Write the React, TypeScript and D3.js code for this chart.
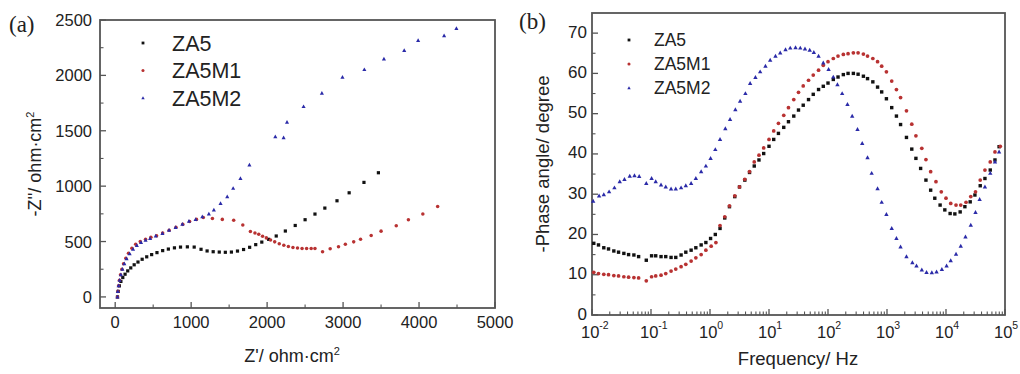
import React from "react";
import * as d3 from "d3";

// ---------- Data: Nyquist (Z' , -Z'') in ohm·cm² ----------
const za5Nyq: [number, number][] = [[30,0],[40,50],[55,100],[75,140],[100,175],[130,205],[165,235],[205,262],[250,290],[300,315],[355,340],[415,362],[480,382],[550,400],[625,418],[700,432],[780,443],[860,450],[950,452],[1040,450],[1130,430],[1210,415],[1290,408],[1370,405],[1450,403],[1530,405],[1610,414],[1690,428],[1770,448],[1850,472],[1930,495],[2020,520],[2120,550],[2240,595],[2370,645],[2500,697],[2630,748],[2760,802],[2920,868],[3080,940],[3275,1034],[3465,1121]];
const za5m1Nyq: [number, number][] = [[30,0],[36,50],[45,100],[56,150],[70,200],[88,250],[110,300],[140,350],[175,395],[220,440],[270,475],[330,500],[400,520],[470,538],[545,552],[625,576],[710,602],[800,628],[890,655],[980,680],[1070,700],[1160,718],[1280,709],[1410,700],[1560,693],[1680,650],[1780,590],[1840,578],[1890,565],[1940,548],[1990,533],[2045,513],[2100,497],[2160,480],[2220,467],[2280,455],[2340,447],[2400,442],[2460,438],[2520,437],[2580,437],[2630,437],[2730,407],[2830,434],[2940,452],[3030,476],[3140,497],[3230,521],[3370,555],[3500,594],[3700,642],[3860,696],[4050,748],[4245,817]];
const za5m2Nyq: [number, number][] = [[30,0],[35,50],[45,100],[58,150],[75,200],[95,250],[120,300],[150,345],[190,390],[235,430],[285,465],[340,492],[400,512],[460,528],[534,549],[622,573],[709,603],[796,627],[884,657],[971,684],[1059,700],[1147,723],[1233,748],[1299,784],[1387,844],[1475,904],[1553,980],[1649,1070],[1767,1190],[2108,1447],[2217,1438],[2262,1577],[2480,1718],[2721,1839],[2992,1983],[3280,2052],[3538,2147],[3805,2224],[3988,2314],[4330,2357],[4492,2423]];

// ---------- Data: Bode phase (log10 frequency/Hz, -phase in degree) ----------
const za5Bode: [number, number][] = [[-1.97,17.8],[-1.89,17.4],[-1.80,16.7],[-1.72,16.4],[-1.63,15.9],[-1.55,15.6],[-1.46,15.3],[-1.38,15.0],[-1.29,14.9],[-1.21,14.5],[-1.08,13.6],[-0.99,14.7],[-0.92,14.7],[-0.83,14.5],[-0.75,14.5],[-0.66,14.3],[-0.58,14.3],[-0.49,14.9],[-0.41,15.6],[-0.32,16.1],[-0.24,16.7],[-0.15,17.4],[-0.07,18.0],[0.01,19.0],[0.09,20.0],[0.17,21.5],[0.25,24.1],[0.33,26.9],[0.42,29.4],[0.50,31.8],[0.59,33.5],[0.67,35.4],[0.75,37.0],[0.83,38.5],[0.91,40.1],[1.0,41.9],[1.08,43.6],[1.16,45.1],[1.25,46.6],[1.33,48.0],[1.42,49.4],[1.50,50.9],[1.58,52.1],[1.67,53.5],[1.75,54.8],[1.84,56.0],[1.92,56.8],[2.0,57.6],[2.09,58.5],[2.17,59.1],[2.26,59.7],[2.34,60.0],[2.43,60.0],[2.51,59.8],[2.60,59.3],[2.67,58.7],[2.76,57.9],[2.84,56.6],[2.91,55.4],[2.99,53.7],[3.08,51.5],[3.16,49.4],[3.23,47.3],[3.33,44.1],[3.42,41.2],[3.49,38.9],[3.57,36.4],[3.66,33.5],[3.74,31.0],[3.81,29.0],[3.90,27.3],[3.98,26.1],[4.07,25.2],[4.15,25.1],[4.24,25.6],[4.32,26.9],[4.41,28.1],[4.49,29.8],[4.58,32.1],[4.66,33.9],[4.75,36.0],[4.83,38.5],[4.90,41.8]];
const za5m1Bode: [number, number][] = [[-1.97,10.6],[-1.89,10.3],[-1.80,10.1],[-1.72,10.0],[-1.63,9.8],[-1.55,9.7],[-1.46,9.5],[-1.38,9.4],[-1.29,9.3],[-1.21,9.2],[-1.08,8.5],[-0.99,9.5],[-0.92,9.7],[-0.83,9.9],[-0.75,10.3],[-0.66,10.9],[-0.58,11.4],[-0.49,12.0],[-0.41,12.6],[-0.32,13.4],[-0.24,14.2],[-0.15,15.0],[-0.07,16.1],[0.02,17.1],[0.10,18.0],[0.17,22.2],[0.25,24.4],[0.33,27.1],[0.42,29.6],[0.50,31.8],[0.59,33.7],[0.67,35.6],[0.75,38.0],[0.83,39.7],[0.91,41.5],[1.0,43.6],[1.08,45.7],[1.16,47.6],[1.25,49.6],[1.33,51.5],[1.42,53.5],[1.50,55.3],[1.58,56.9],[1.67,58.3],[1.75,59.6],[1.84,60.8],[1.92,62.0],[2.0,62.9],[2.09,63.7],[2.17,64.3],[2.26,64.7],[2.34,64.9],[2.43,65.1],[2.51,65.1],[2.60,64.8],[2.67,64.3],[2.76,63.7],[2.84,62.9],[2.91,61.8],[2.99,60.4],[3.08,58.1],[3.16,56.0],[3.23,54.0],[3.33,50.7],[3.42,47.4],[3.49,44.5],[3.59,41.4],[3.66,38.6],[3.74,35.6],[3.83,33.1],[3.92,30.6],[4.0,29.0],[4.08,27.7],[4.17,27.3],[4.25,27.3],[4.34,28.0],[4.42,29.4],[4.50,30.6],[4.58,33.5],[4.66,36.0],[4.75,38.0],[4.83,40.5],[4.92,41.9]];
const za5m2Bode: [number, number][] = [[-1.98,28.3],[-1.88,29.6],[-1.80,29.9],[-1.71,30.6],[-1.62,31.6],[-1.53,33.1],[-1.45,33.7],[-1.36,34.5],[-1.28,34.6],[-1.20,34.4],[-1.08,32.7],[-0.99,33.9],[-0.92,33.1],[-0.83,32.3],[-0.75,31.8],[-0.66,31.3],[-0.58,31.3],[-0.49,31.6],[-0.41,32.1],[-0.32,32.7],[-0.24,33.9],[-0.15,35.6],[-0.07,37.0],[0.01,38.9],[0.09,41.1],[0.17,43.6],[0.26,46.3],[0.34,48.6],[0.43,51.0],[0.51,53.1],[0.60,55.0],[0.68,57.5],[0.77,59.0],[0.85,60.4],[0.94,61.8],[1.02,63.3],[1.11,64.3],[1.19,65.1],[1.28,65.9],[1.36,66.3],[1.45,66.4],[1.53,66.3],[1.61,66.1],[1.69,65.8],[1.76,65.2],[1.84,64.3],[1.92,62.6],[2.01,61.0],[2.09,59.1],[2.16,57.2],[2.24,55.0],[2.33,52.3],[2.41,49.4],[2.50,46.1],[2.58,42.6],[2.67,39.1],[2.74,35.2],[2.84,31.4],[2.91,28.0],[2.99,25.0],[3.08,21.5],[3.16,19.0],[3.23,16.9],[3.33,14.5],[3.43,13.0],[3.50,12.2],[3.59,11.2],[3.67,10.6],[3.76,10.5],[3.84,10.7],[3.93,11.3],[4.01,12.2],[4.08,13.5],[4.17,15.1],[4.25,17.1],[4.33,19.4],[4.42,22.3],[4.50,25.5],[4.57,28.7],[4.66,31.8],[4.75,35.2],[4.83,38.0],[4.90,40.5]];

const seriesNames = ["ZA5", "ZA5M1", "ZA5M2"];
const nyqXTicks = [0, 1000, 2000, 3000, 4000, 5000];
const nyqYTicks = [0, 500, 1000, 1500, 2000, 2500];
const bodeYTicks = [0, 10, 20, 30, 40, 50, 60, 70];
const bodeXExponents = [-2, -1, 0, 1, 2, 3, 4, 5];

const COLORS = ["#111111", "#b83232", "#2a2aa8"];
const FONT = "'Liberation Sans', Arial, sans-serif";
const FRAME = "#555";

function Marker({ kind, x, y, s }: { kind: number; x: number; y: number; s: number }) {
  if (kind === 0) return <rect x={x - s} y={y - s} width={2 * s} height={2 * s} fill={COLORS[0]} />;
  if (kind === 1) return <circle cx={x} cy={y} r={s * 1.1} fill={COLORS[1]} />;
  const h = s * 2.2;
  return <path d={`M${x},${y - h * 0.6}L${x + h * 0.55},${y + h * 0.4}L${x - h * 0.55},${y + h * 0.4}Z`} fill={COLORS[2]} />;
}

export default function App() {
  // ---- panel (a) ----
  const aL = 100, aR = 495, aT = 20, aB = 308;
  const ax = d3.scaleLinear().domain([-200, 5000]).range([aL, aR]);
  const ay = d3.scaleLinear().domain([-100, 2500]).range([aB, aT]);
  const aMinorX = d3.range(500, 5000, 1000);
  const aMinorY = d3.range(250, 2500, 500);

  // ---- panel (b) ----
  const bL = 592, bR = 1005, bT = 13, bB = 315;
  const bx = d3.scaleLog().domain([1e-2, 1e5]).range([bL, bR]);
  const by = d3.scaleLinear().domain([0, 75]).range([bB, bT]);
  const bMinorY = d3.range(5, 75, 10);
  const bMinorX: number[] = [];
  bodeXExponents.slice(0, -1).forEach((e) => {
    for (let m = 2; m <= 9; m++) bMinorX.push(m * Math.pow(10, e));
  });

  const nyq = [za5Nyq, za5m1Nyq, za5m2Nyq];
  const bode = [za5Bode, za5m1Bode, za5m2Bode];

  return (
    <svg width={1020} height={374} style={{ position: "absolute", left: 0, top: 0, background: "#fff" }}
      fontFamily={FONT}>
      <rect x={0} y={0} width={1020} height={374} fill="#fff" />
      {/* ================= Panel (a) ================= */}
      <text x={9} y={32} fontFamily="'Liberation Serif', 'Times New Roman', serif" fontSize={23} fill="#222">(a)</text>
      {nyqXTicks.map((t) => (
        <g key={"ax" + t}>
          <line x1={ax(t)} x2={ax(t)} y1={aB} y2={aB - 6} stroke={FRAME} strokeWidth={1.3} />
          <text x={ax(t)} y={328} textAnchor="middle" fontSize={16.5} fill="#222">{t}</text>
        </g>
      ))}
      {aMinorX.map((t) => (
        <line key={"amx" + t} x1={ax(t)} x2={ax(t)} y1={aB} y2={aB - 3.5} stroke={FRAME} strokeWidth={1.1} />
      ))}
      {nyqYTicks.map((t) => (
        <g key={"ay" + t}>
          <line x1={aL} x2={aL + 6} y1={ay(t)} y2={ay(t)} stroke={FRAME} strokeWidth={1.3} />
          <text x={92} y={ay(t) + 6} textAnchor="end" fontSize={16.5} fill="#222">{t}</text>
        </g>
      ))}
      {aMinorY.map((t) => (
        <line key={"amy" + t} x1={aL} x2={aL + 3.5} y1={ay(t)} y2={ay(t)} stroke={FRAME} strokeWidth={1.1} />
      ))}
      <rect x={aL} y={aT} width={aR - aL} height={aB - aT} fill="none" stroke={FRAME} strokeWidth={1.8} />
      {[0, 1, 2].map((k) => (
        <g key={"nyq" + k}>
          {nyq[k].map(([zr, zi], i) => (
            <Marker key={i} kind={k} x={ax(zr)} y={ay(zi)} s={k === 2 ? 1.7 : 1.6} />
          ))}
        </g>
      ))}
      {seriesNames.map((n, k) => (
        <g key={"aleg" + k}>
          <Marker kind={k} x={143} y={43 + k * 27.5} s={1.4} />
          <text x={172} y={43 + k * 27.5 + 7.5} fontSize={21.5} fill="#222">{n}</text>
        </g>
      ))}
      <text x={292} y={362} textAnchor="middle" fontSize={18} fill="#222">
        Z'/ ohm·cm<tspan dy={-7} fontSize={11}>2</tspan>
      </text>
      <text transform={`translate(41,${(aT + aB) / 2}) rotate(-90)`} textAnchor="middle" fontSize={18} fill="#222">
        -Z''/ ohm·cm<tspan dy={-7} fontSize={11}>2</tspan>
      </text>

      {/* ================= Panel (b) ================= */}
      <text x={519} y={29} fontFamily="'Liberation Serif', 'Times New Roman', serif" fontSize={23} fill="#222">(b)</text>
      {bodeXExponents.map((e) => {
        const v = Math.pow(10, e);
        return (
          <g key={"bx" + e}>
            <line x1={bx(v)} x2={bx(v)} y1={bB} y2={bB - 6} stroke={FRAME} strokeWidth={1.3} />
            <text x={bx(v) - 11} y={338} textAnchor="start" fontSize={16.5} fill="#222">
              10<tspan dy={-9} fontSize={10.5}>{e}</tspan>
            </text>
          </g>
        );
      })}
      {bMinorX.map((v, i) => (
        <line key={"bmx" + i} x1={bx(v)} x2={bx(v)} y1={bB} y2={bB - 3.5} stroke={FRAME} strokeWidth={1.1} />
      ))}
      {bodeYTicks.map((t) => (
        <g key={"by" + t}>
          <line x1={bL} x2={bL + 6} y1={by(t)} y2={by(t)} stroke={FRAME} strokeWidth={1.3} />
          <text x={587} y={by(t) + 4.5} textAnchor="end" fontSize={17} fill="#222">{t}</text>
        </g>
      ))}
      {bMinorY.map((t) => (
        <line key={"bmy" + t} x1={bL} x2={bL + 3.5} y1={by(t)} y2={by(t)} stroke={FRAME} strokeWidth={1.1} />
      ))}
      <rect x={bL} y={bT} width={bR - bL} height={bB - bT} fill="none" stroke={FRAME} strokeWidth={1.8} />
      {[0, 1, 2].map((k) => (
        <g key={"bode" + k}>
          {bode[k].map(([lf, ph], i) => (
            <Marker key={i} kind={k} x={bx(Math.pow(10, lf))} y={by(ph)} s={k === 2 ? 1.8 : 1.7} />
          ))}
        </g>
      ))}
      {seriesNames.map((n, k) => (
        <g key={"bleg" + k}>
          <Marker kind={k} x={629} y={40 + k * 24} s={1.4} />
          <text x={654} y={40 + k * 24 + 6} fontSize={17.5} fill="#222">{n}</text>
        </g>
      ))}
      <text x={798} y={365} textAnchor="middle" fontSize={18.5} fill="#222">Frequency/ Hz</text>
      <text transform={`translate(549,${(bT + bB) / 2}) rotate(-90)`} textAnchor="middle" fontSize={18.5} fill="#222">
        -Phase angle/ degree
      </text>
    </svg>
  );
}
